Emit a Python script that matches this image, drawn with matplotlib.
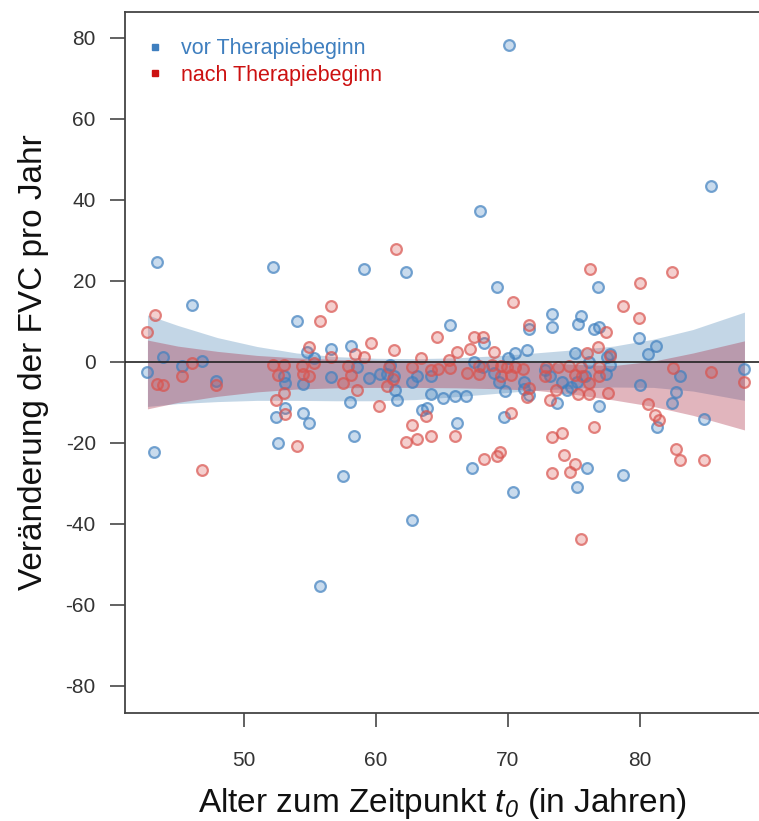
import matplotlib
matplotlib.use("Agg")
import matplotlib.pyplot as plt
from matplotlib.lines import Line2D

plt.rcParams['font.family'] = ['Liberation Sans', 'DejaVu Sans']
plt.rcParams['mathtext.fontset'] = 'custom'
plt.rcParams['mathtext.it'] = 'Liberation Sans:italic'
plt.rcParams['mathtext.rm'] = 'Liberation Sans:italic'
plt.rcParams['mathtext.default'] = 'it'
plt.rcParams['axes.unicode_minus'] = False

# vor Therapiebeginn (blau)
vor_x = [43.45, 52.2, 46.1, 43.9, 42.7, 45.3, 46.8, 47.9, 43.2, 52.4, 53.1, 52.6, 53.0, 53.1,
         59.1, 62.3, 54.05, 54.8, 55.3, 56.6, 58.1, 54.5, 56.6, 58.6, 59.5, 60.3, 60.8, 61.1,
         61.4, 61.45, 61.6, 58.0, 54.5, 54.9, 58.3, 57.5, 62.7, 62.7, 63.1, 63.5, 63.9, 64.2,
         65.1, 64.2, 65.6,
         69.2, 76.8, 73.3, 73.3, 75.5, 75.3, 76.5, 76.9, 71.6, 68.2, 71.4, 70.5, 70.0, 75.1,
         76.1, 67.4, 68.1, 68.9, 69.3, 69.8, 71.2, 71.2, 71.6, 72.8, 73.2, 74.1, 74.5, 74.8,
         75.2, 75.8, 73.7, 66.0, 66.8, 66.1, 69.7, 67.3, 70.4, 76.0, 75.2, 76.9, 77.5,
         79.9, 81.2, 80.6, 77.7, 77.7, 77.4, 83.0, 80.0, 82.7, 82.4, 81.3, 84.8, 78.7, 87.9,
         70.1, 85.4, 67.9, 55.8]
vor_y = [24.6, 23.5, 14.0, 1.1, -2.6, -1.0, 0.3, -4.6, -22.3, -13.5, -11.4, -20.1, -3.5, -5.1,
         22.9, 22.3, 10.1, 2.5, 0.9, 3.1, 4.0, -5.4, -3.8, -1.2, -4.0, -3.0, -3.0, -0.7,
         -3.6, -6.9, -9.5, -9.8, -12.7, -15.1, -18.2, -28.1, -39.0, -4.9, -3.6, -11.9, -11.4, -7.9,
         -9.0, -3.6, 9.1,
         18.4, 18.4, 11.8, 8.7, 11.4, 9.3, 8.1, 8.6, 8.1, 4.6, 3.0, 2.1, 0.9, 2.1,
         0.1, 0.1, -1.2, -2.8, -4.9, -7.1, -4.9, -6.8, -8.1, -2.0, -3.6, -4.9, -6.9, -6.1,
         -4.9, -3.6, -10.2, -8.4, -8.3, -15.0, -13.7, -26.1, -32.2, -26.1, -31.0, -11.0, 1.3,
         5.8, 4.0, 2.0, 2.0, -0.7, -3.0, -3.5, -5.8, -7.5, -10.2, -16.1, -14.2, -27.9, -1.7,
         78.3, 43.5, 37.3, -55.3]

# nach Therapiebeginn (rot)
nach_x = [43.3, 42.7, 43.4, 43.9, 45.3, 46.1, 47.9, 46.8, 52.2, 53.0, 52.6, 53.0, 52.4, 53.1,
          61.5, 56.6, 55.8, 59.6, 54.9, 56.6, 58.4, 59.1, 61.4, 63.4, 64.6, 54.4, 54.5, 54.9,
          55.3, 57.9, 58.1, 57.5, 58.6, 60.8, 61.0, 61.3, 62.7, 64.2, 64.7, 60.2, 63.8, 62.7,
          62.3, 63.1, 64.2, 54.05, 65.5,
          76.2, 70.4, 71.6, 67.4, 68.1, 66.1, 67.1, 68.9, 76.8, 76.0, 77.4, 65.6, 66.9, 67.8,
          67.8, 68.8, 69.5, 69.9, 70.2, 69.5, 70.5, 71.1, 71.6, 71.4, 72.9, 72.8, 73.6, 73.2,
          73.8, 74.6, 75.1, 75.5, 75.6, 76.1, 75.3, 76.1, 76.9, 76.9, 77.6, 70.2, 66.0, 76.5,
          73.3, 74.1, 68.2, 69.2, 69.4, 74.2, 75.1, 74.7, 73.3, 75.5,
          82.4, 80.0, 78.7, 79.9, 77.7, 82.5, 85.4, 87.9, 80.6, 81.1, 81.4, 82.7, 83.0, 84.8]
nach_y = [11.6, 7.5, -5.4, -5.7, -3.5, -0.3, -5.7, -26.7, -0.7, -0.7, -3.2, -7.7, -9.4, -12.9,
          27.9, 13.8, 10.2, 4.6, 3.6, 1.1, 2.0, 1.2, 3.0, 0.9, 6.2, -1.0, -3.0, -3.5,
          -0.3, -1.0, -3.2, -5.1, -6.9, -5.9, -1.2, -4.3, -1.2, -2.0, -1.8, -11.0, -13.3, -15.6,
          -19.7, -19.0, -18.2, -20.7, 0.5,
          22.9, 14.9, 9.1, 6.1, 6.2, 2.5, 3.1, 2.5, 3.8, 2.1, 7.5, -1.6, -2.8, -3.0,
          -1.0, -0.7, -1.0, -1.2, -3.2, -3.6, -1.2, -1.8, -6.5, -8.6, -1.2, -3.6, -6.9, -9.4,
          -1.2, -1.0, -3.2, -1.2, -3.6, -5.3, -7.9, -7.9, -1.2, -3.6, -7.7, -12.5, -18.2, -16.0,
          -18.6, -17.5, -24.0, -23.2, -22.3, -23.0, -25.2, -27.3, -27.5, -43.7,
          22.1, 19.4, 13.8, 10.8, 1.5, -1.6, -2.6, -5.0, -10.5, -13.1, -14.3, -21.5, -24.2, -24.2]

# Konfidenzbänder
band_x = [42.7, 45, 48, 51, 54, 57, 60, 63, 66, 69, 72, 75, 78, 81, 84, 87.9]
vor_lo = [-11.0, -10.3, -9.8, -9.5, -9.5, -9.6, -9.6, -9.3, -8.6, -7.8, -7.0, -6.5, -6.2, -6.3, -7.2, -9.5]
vor_hi = [11.6, 9.0, 6.0, 3.8, 2.2, 1.3, 0.9, 0.8, 1.0, 1.5, 2.2, 3.0, 3.9, 5.6, 8.0, 12.3]
nach_lo = [-11.6, -10.0, -8.5, -7.4, -6.7, -6.4, -6.3, -6.3, -6.4, -6.6, -7.0, -8.0, -9.4, -11.0, -13.2, -16.8]
nach_hi = [5.4, 3.9, 2.6, 1.6, 1.0, 0.6, 0.4, 0.3, 0.2, 0.1, -0.1, -0.6, -0.9, 0.2, 2.2, 5.2]

blue = '#3f7fbf'
red = '#cc1111'

fig = plt.figure(figsize=(7.59, 8.21), dpi=100)
ax = fig.add_axes([0.1647, 0.1315, 0.8353, 0.8539])

ax.fill_between(band_x, vor_lo, vor_hi, color='#4682b4', alpha=0.32, lw=0, zorder=1)
ax.fill_between(band_x, nach_lo, nach_hi, color='#a82840', alpha=0.34, lw=0, zorder=1.1)

ax.scatter(vor_x, vor_y, s=60, facecolor=(0.25, 0.5, 0.75, 0.28),
           edgecolor=(0.25, 0.5, 0.75, 0.7), linewidths=1.6, zorder=2)
ax.scatter(nach_x, nach_y, s=60, facecolor=(0.85, 0.33, 0.31, 0.28),
           edgecolor=(0.85, 0.33, 0.31, 0.7), linewidths=1.6, zorder=2)

ax.axhline(0, color='#222222', lw=1.2, zorder=3)

ax.set_xlim(41, 89)
ax.set_ylim(-86.7, 86.4)
ax.set_xticks([50, 60, 70, 80])
ax.set_yticks(range(-80, 81, 20))

ax.spines['right'].set_visible(False)
for s in ['left', 'bottom', 'top']:
    ax.spines[s].set_color('#444444')
    ax.spines[s].set_linewidth(1.3)

ax.tick_params(axis='x', length=10, width=1.3, color='#555555', pad=17,
               labelsize=15, labelcolor='#333333')
ax.tick_params(axis='y', length=11, width=1.3, color='#555555', pad=10,
               labelsize=15, labelcolor='#333333')

ax.set_xlabel(r'Alter zum Zeitpunkt $t_{0}$ (in Jahren)', fontsize=24,
              labelpad=12, color='#111111')
ax.set_ylabel('Veränderung der FVC pro Jahr', fontsize=24, labelpad=12, color='#111111')

handles = [Line2D([], [], ls='none', marker='s', ms=5, color=blue),
           Line2D([], [], ls='none', marker='s', ms=5, color=red)]
leg = ax.legend(handles, ['vor Therapiebeginn', 'nach Therapiebeginn'],
                loc='upper left', bbox_to_anchor=(0.0, 0.99), frameon=False,
                fontsize=15.5, handlelength=1.0, handletextpad=0.7, labelspacing=0.25,
                labelcolor=[blue, red])

fig.savefig('out.png', dpi=100)
